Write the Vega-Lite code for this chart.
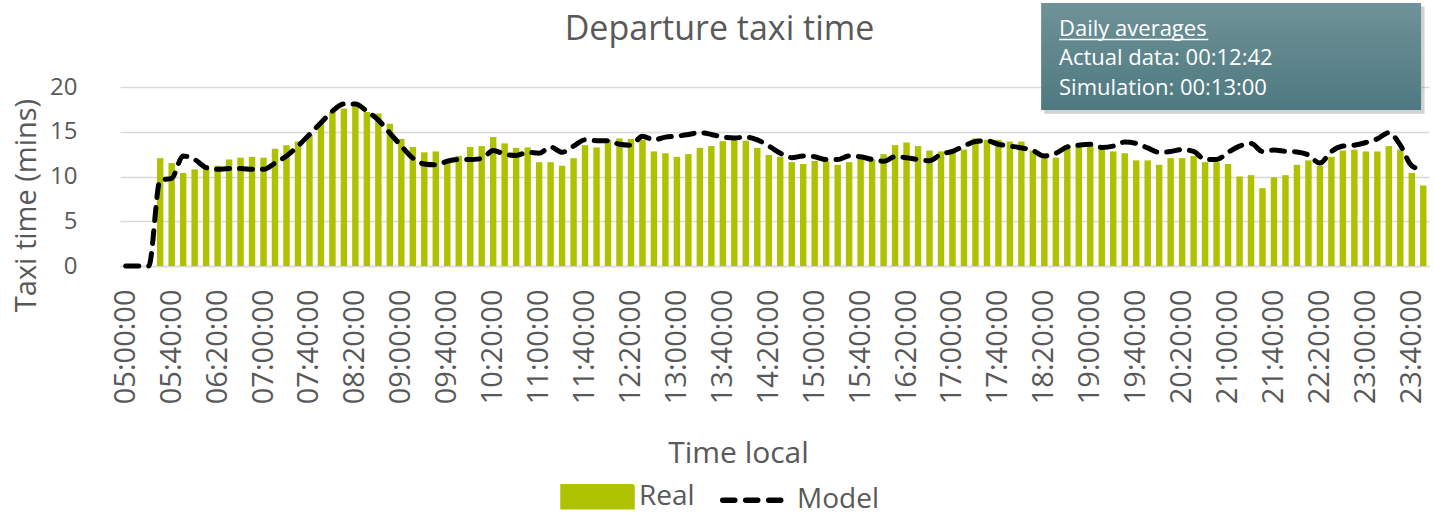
{
  "$schema": "https://vega.github.io/schema/vega-lite/v6.json",
  "width": 1309,
  "height": 179,
  "autosize": {"type": "none"},
  "padding": {"left": 120, "top": 87, "right": 5, "bottom": 248},
  "background": "white",
  "config": {
    "font": "Open Sans",
    "view": {"stroke": null},
    "axis": {"labelColor": "#595959", "titleColor": "#595959", "titleFontWeight": "normal"}
  },
  "title": {
    "text": "Departure taxi time",
    "fontSize": 34,
    "fontWeight": "normal",
    "color": "#595959",
    "frame": "group",
    "anchor": "middle",
    "baseline": "alphabetic",
    "dx": -55,
    "offset": -71
  },
  "data": {"values": [
    {"t": "05:00:00", "real": null, "model": 0},
    {"t": "05:10:00", "real": null, "model": 0},
    {"t": "05:20:00", "real": null, "model": 0},
    {"t": "05:30:00", "real": 12.05, "model": 9.6},
    {"t": "05:40:00", "real": 11.5, "model": 9.8},
    {"t": "05:50:00", "real": 10.4, "model": 12.3},
    {"t": "06:00:00", "real": 10.8, "model": 11.9},
    {"t": "06:10:00", "real": 11.0, "model": 11.0},
    {"t": "06:20:00", "real": 11.2, "model": 10.8},
    {"t": "06:30:00", "real": 11.9, "model": 10.9},
    {"t": "06:40:00", "real": 12.1, "model": 10.9},
    {"t": "06:50:00", "real": 12.2, "model": 10.8},
    {"t": "07:00:00", "real": 12.1, "model": 10.8},
    {"t": "07:10:00", "real": 13.1, "model": 11.5},
    {"t": "07:20:00", "real": 13.5, "model": 12.3},
    {"t": "07:30:00", "real": 13.9, "model": 13.4},
    {"t": "07:40:00", "real": 14.7, "model": 14.7},
    {"t": "07:50:00", "real": 16.1, "model": 16.0},
    {"t": "08:00:00", "real": 17.2, "model": 17.3},
    {"t": "08:10:00", "real": 17.6, "model": 18.1},
    {"t": "08:20:00", "real": 18.1, "model": 18.1},
    {"t": "08:30:00", "real": 17.2, "model": 17.3},
    {"t": "08:40:00", "real": 17.05, "model": 16.3},
    {"t": "08:50:00", "real": 15.9, "model": 14.85},
    {"t": "09:00:00", "real": 14.2, "model": 13.4},
    {"t": "09:10:00", "real": 13.3, "model": 12.05},
    {"t": "09:20:00", "real": 12.7, "model": 11.4},
    {"t": "09:30:00", "real": 12.8, "model": 11.3},
    {"t": "09:40:00", "real": 11.7, "model": 11.7},
    {"t": "09:50:00", "real": 12.3, "model": 11.9},
    {"t": "10:00:00", "real": 13.3, "model": 11.9},
    {"t": "10:10:00", "real": 13.4, "model": 12.0},
    {"t": "10:20:00", "real": 14.4, "model": 12.9},
    {"t": "10:30:00", "real": 13.7, "model": 12.5},
    {"t": "10:40:00", "real": 13.2, "model": 12.35},
    {"t": "10:50:00", "real": 13.25, "model": 12.7},
    {"t": "11:00:00", "real": 11.6, "model": 12.6},
    {"t": "11:10:00", "real": 11.6, "model": 13.3},
    {"t": "11:20:00", "real": 11.2, "model": 12.7},
    {"t": "11:30:00", "real": 12.05, "model": 13.4},
    {"t": "11:40:00", "real": 13.5, "model": 14.1},
    {"t": "11:50:00", "real": 13.25, "model": 14.0},
    {"t": "12:00:00", "real": 14.1, "model": 14.0},
    {"t": "12:10:00", "real": 14.25, "model": 13.6},
    {"t": "12:20:00", "real": 14.2, "model": 13.5},
    {"t": "12:30:00", "real": 14.1, "model": 14.5},
    {"t": "12:40:00", "real": 12.8, "model": 14.1},
    {"t": "12:50:00", "real": 12.6, "model": 14.4},
    {"t": "13:00:00", "real": 12.2, "model": 14.5},
    {"t": "13:10:00", "real": 12.5, "model": 14.7},
    {"t": "13:20:00", "real": 13.2, "model": 14.9},
    {"t": "13:30:00", "real": 13.4, "model": 14.7},
    {"t": "13:40:00", "real": 13.95, "model": 14.4},
    {"t": "13:50:00", "real": 14.2, "model": 14.3},
    {"t": "14:00:00", "real": 14.0, "model": 14.4},
    {"t": "14:10:00", "real": 13.2, "model": 14.1},
    {"t": "14:20:00", "real": 12.4, "model": 13.4},
    {"t": "14:30:00", "real": 12.2, "model": 12.6},
    {"t": "14:40:00", "real": 11.6, "model": 12.1},
    {"t": "14:50:00", "real": 11.4, "model": 12.3},
    {"t": "15:00:00", "real": 11.75, "model": 12.2},
    {"t": "15:10:00", "real": 11.7, "model": 11.9},
    {"t": "15:20:00", "real": 11.3, "model": 11.9},
    {"t": "15:30:00", "real": 11.6, "model": 12.3},
    {"t": "15:40:00", "real": 12.4, "model": 12.2},
    {"t": "15:50:00", "real": 11.9, "model": 11.9},
    {"t": "16:00:00", "real": 12.5, "model": 11.7},
    {"t": "16:10:00", "real": 13.5, "model": 12.2},
    {"t": "16:20:00", "real": 13.8, "model": 12.1},
    {"t": "16:30:00", "real": 13.4, "model": 11.9},
    {"t": "16:40:00", "real": 12.9, "model": 11.75},
    {"t": "16:50:00", "real": 12.8, "model": 12.5},
    {"t": "17:00:00", "real": 12.8, "model": 12.8},
    {"t": "17:10:00", "real": 13.0, "model": 13.4},
    {"t": "17:20:00", "real": 14.25, "model": 13.9},
    {"t": "17:30:00", "real": 14.1, "model": 14.0},
    {"t": "17:40:00", "real": 14.1, "model": 13.6},
    {"t": "17:50:00", "real": 13.9, "model": 13.4},
    {"t": "18:00:00", "real": 13.9, "model": 13.2},
    {"t": "18:10:00", "real": 12.9, "model": 12.9},
    {"t": "18:20:00", "real": 12.05, "model": 12.3},
    {"t": "18:30:00", "real": 12.1, "model": 12.6},
    {"t": "18:40:00", "real": 13.5, "model": 13.3},
    {"t": "18:50:00", "real": 13.5, "model": 13.5},
    {"t": "19:00:00", "real": 13.5, "model": 13.6},
    {"t": "19:10:00", "real": 13.1, "model": 13.25},
    {"t": "19:20:00", "real": 12.8, "model": 13.4},
    {"t": "19:30:00", "real": 12.6, "model": 13.85},
    {"t": "19:40:00", "real": 11.8, "model": 13.7},
    {"t": "19:50:00", "real": 11.8, "model": 13.2},
    {"t": "20:00:00", "real": 11.3, "model": 12.7},
    {"t": "20:10:00", "real": 12.05, "model": 12.8},
    {"t": "20:20:00", "real": 12.05, "model": 13.0},
    {"t": "20:30:00", "real": 12.3, "model": 12.8},
    {"t": "20:40:00", "real": 11.6, "model": 11.9},
    {"t": "20:50:00", "real": 11.6, "model": 11.9},
    {"t": "21:00:00", "real": 11.4, "model": 12.7},
    {"t": "21:10:00", "real": 10.0, "model": 13.4},
    {"t": "21:20:00", "real": 10.15, "model": 13.7},
    {"t": "21:30:00", "real": 8.7, "model": 12.8},
    {"t": "21:40:00", "real": 9.9, "model": 12.95},
    {"t": "21:50:00", "real": 10.15, "model": 12.8},
    {"t": "22:00:00", "real": 11.3, "model": 12.75},
    {"t": "22:10:00", "real": 11.8, "model": 12.4},
    {"t": "22:20:00", "real": 11.2, "model": 11.5},
    {"t": "22:30:00", "real": 12.2, "model": 12.8},
    {"t": "22:40:00", "real": 12.9, "model": 13.4},
    {"t": "22:50:00", "real": 13.0, "model": 13.5},
    {"t": "23:00:00", "real": 12.8, "model": 13.8},
    {"t": "23:10:00", "real": 12.8, "model": 14.2},
    {"t": "23:20:00", "real": 13.4, "model": 14.9},
    {"t": "23:30:00", "real": 13.0, "model": 13.5},
    {"t": "23:40:00", "real": 10.4, "model": 11.2},
    {"t": "23:50:00", "real": 9.0, "model": 10.7}
  ]},
  "layer": [
    {
      "mark": {"type": "bar"},
      "encoding": {
        "x": {
          "field": "t", "type": "ordinal",
          "scale": {"paddingInner": 0.44, "paddingOuter": 0.22},
          "title": "Time local",
          "axis": {
            "values": ["05:00:00","05:40:00","06:20:00","07:00:00","07:40:00","08:20:00","09:00:00","09:40:00","10:20:00","11:00:00","11:40:00","12:20:00","13:00:00","13:40:00","14:20:00","15:00:00","15:40:00","16:20:00","17:00:00","17:40:00","18:20:00","19:00:00","19:40:00","20:20:00","21:00:00","21:40:00","22:20:00","23:00:00","23:40:00"],
            "labelAngle": -90,
            "labelFontSize": 29,
            "labelPadding": 23,
            "ticks": false,
            "grid": false,
            "domainColor": "#d9d9d9",
            "domainWidth": 1.5,
            "titleFontSize": 30,
            "titleX": 618,
            "titleY": 196,
            "titleBaseline": "alphabetic",
            "titleAlign": "center"
          }
        },
        "y": {
          "field": "real", "type": "quantitative",
          "scale": {"domain": [0, 20], "nice": false},
          "title": "Taxi time (mins)",
          "axis": {
            "values": [0, 5, 10, 15, 20],
            "labelFontSize": 24,
            "labelPadding": 43,
            "ticks": false,
            "domain": false,
            "gridColor": "#d9d9d9",
            "gridWidth": 1.5,
            "titleFontSize": 29,
            "titleAngle": -90,
            "titleX": -94,
            "titleY": 118,
            "titleAlign": "center",
            "titleBaseline": "middle"
          }
        },
        "color": {
          "datum": "Real",
          "type": "nominal",
          "scale": {"domain": ["Real", "Model"], "range": ["#aec200", "#000000"]},
          "legend": {
            "title": null,
            "orient": "none",
            "direction": "horizontal",
            "legendX": 440,
            "legendY": 372,
            "padding": 0,
            "symbolSize": 4761,
            "symbolStrokeWidth": 5,
            "labelFontSize": 28,
            "labelColor": "#595959",
            "labelOffset": 4,
            "columnPadding": 16,
            "encode": {
              "symbols": {
                "update": {
                  "shape": [{"test": "datum.value === 'Model'", "value": "M-0.95,0H0.95"}, {"value": "M-1,-0.29H1V0.29H-1Z"}],
                  "fill": [{"test": "datum.value === 'Model'", "value": "transparent"}, {"value": "#aec200"}],
                  "stroke": [{"test": "datum.value === 'Model'", "value": "#000000"}, {"value": "transparent"}],
                  "strokeDash": [{"test": "datum.value === 'Model'", "value": [12, 11]}, {"value": [1, 0]}],
                  "strokeCap": {"value": "round"},
                  "strokeWidth": {"value": 5.5},
                  "opacity": {"value": 1}
                }
              }
            }
          }
        }
      }
    },
    {
      "mark": {"type": "line", "interpolate": "monotone", "strokeWidth": 5, "strokeDash": [13, 10], "strokeCap": "round"},
      "encoding": {
        "x": {"field": "t", "type": "ordinal"},
        "y": {"field": "model", "type": "quantitative"},
        "color": {"datum": "Model", "type": "nominal"}
      }
    },
    {
      "data": {"values": [{"box": "shadow"}]},
      "mark": {"type": "rect", "color": "#7f7f7f", "opacity": 0.35},
      "encoding": {
        "x": {"datum": "18:20:00", "type": "ordinal", "bandPosition": 0.5},
        "x2": {"datum": "23:50:00", "bandPosition": 0.7},
        "y": {"datum": 29.0, "type": "quantitative"},
        "y2": {"datum": 17.0}
      }
    },
    {
      "data": {"values": [{"box": "panel"}]},
      "mark": {
        "type": "rect",
        "color": {"gradient": "linear", "x1": 0, "y1": 0, "x2": 0, "y2": 1, "stops": [{"offset": 0, "color": "#6e9297"}, {"offset": 1, "color": "#4e7980"}]}
      },
      "encoding": {
        "x": {"datum": "18:20:00", "type": "ordinal", "bandPosition": 0},
        "x2": {"datum": "23:50:00", "bandPosition": 0.16},
        "y": {"datum": 29.39, "type": "quantitative"},
        "y2": {"datum": 17.43}
      }
    },
    {
      "data": {"values": [{"label": "Daily averages"}]},
      "mark": {"type": "text", "align": "left", "baseline": "alphabetic", "fontSize": 22, "color": "white"},
      "encoding": {
        "x": {"datum": "18:30:00", "type": "ordinal", "bandPosition": 1},
        "y": {"datum": 25.73, "type": "quantitative"},
        "text": {"field": "label"}
      }
    },
    {
      "data": {"values": [{"label": "underline"}]},
      "mark": {"type": "rule", "color": "white", "strokeWidth": 1.5},
      "encoding": {
        "x": {"datum": "18:30:00", "type": "ordinal", "bandPosition": 1},
        "x2": {"datum": "20:40:00", "bandPosition": 1},
        "y": {"datum": 25.3, "type": "quantitative"}
      }
    },
    {
      "data": {"values": [{"label": "Actual data: 00:12:42"}]},
      "mark": {"type": "text", "align": "left", "baseline": "alphabetic", "fontSize": 22, "color": "white"},
      "encoding": {
        "x": {"datum": "18:30:00", "type": "ordinal", "bandPosition": 1},
        "y": {"datum": 22.46, "type": "quantitative"},
        "text": {"field": "label"}
      }
    },
    {
      "data": {"values": [{"label": "Simulation: 00:13:00"}]},
      "mark": {"type": "text", "align": "left", "baseline": "alphabetic", "fontSize": 22, "color": "white"},
      "encoding": {
        "x": {"datum": "18:30:00", "type": "ordinal", "bandPosition": 1},
        "y": {"datum": 19.11, "type": "quantitative"},
        "text": {"field": "label"}
      }
    }
  ]
}
